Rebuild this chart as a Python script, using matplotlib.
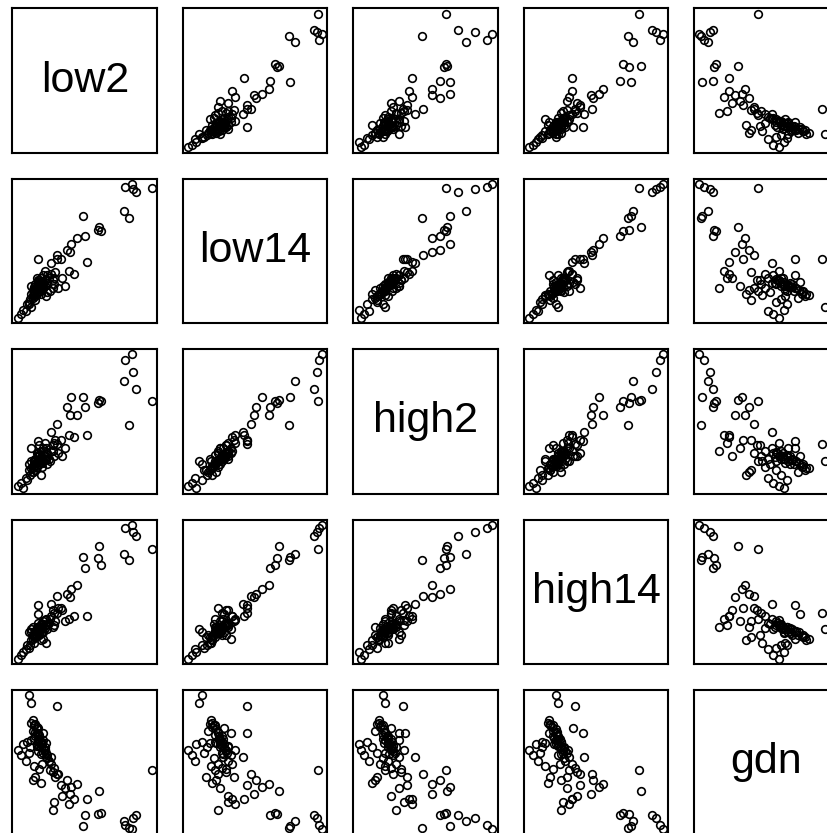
"""Scatterplot matrix (R pairs style) of low2, low14, high2, high14, gdn."""
import matplotlib
matplotlib.use("Agg")
import matplotlib.pyplot as plt

# values (units as in the original, scaled 0..1 here)
low2 = [0.00, 0.02, 0.04, 0.06, 0.07,
        0.10, 0.12, 0.11, 0.14, 0.13, 0.16, 0.15, 0.18, 0.17, 0.20,
        0.19, 0.22, 0.21, 0.23, 0.18, 0.12, 0.09, 0.08, 0.16, 0.25,
        0.27, 0.24, 0.20, 0.14, 0.10, 0.22, 0.26, 0.13, 0.11, 0.17,
        0.28, 0.30, 0.19, 0.15, 0.21,
        0.12, 0.14, 0.16, 0.18, 0.13, 0.15, 0.17, 0.19, 0.21, 0.11,
        0.14, 0.16, 0.20, 0.12, 0.18, 0.15, 0.17, 0.13, 0.19, 0.16,
        0.15, 0.29, 0.25, 0.32, 0.29, 0.10, 0.08, 0.38, 0.27, 0.26,
        0.33, 0.42, 0.35, 0.52,
        0.85, 0.80, 0.86, 0.88, 1.00, 0.79, 0.83,
        0.61, 0.60, 0.62, 0.49, 0.50, 0.44, 0.40, 0.37, 0.39]
low14 = [0.00, 0.03, 0.06, 0.05, 0.10,
         0.18, 0.20, 0.15, 0.22, 0.25, 0.24, 0.20, 0.27, 0.30, 0.28,
         0.25, 0.32, 0.26, 0.30, 0.22, 0.17, 0.14, 0.12, 0.28, 0.33,
         0.25, 0.20, 0.35, 0.30, 0.24, 0.19, 0.28, 0.13, 0.21, 0.18,
         0.34, 0.22, 0.32, 0.27, 0.16,
         0.19, 0.21, 0.23, 0.25, 0.22, 0.26, 0.24, 0.27, 0.29, 0.17,
         0.18, 0.20, 0.24, 0.23, 0.21, 0.28, 0.26, 0.16, 0.23, 0.25,
         0.44, 0.47, 0.41, 0.44, 0.44, 0.08, 0.10, 0.35, 0.30, 0.22,
         0.30, 0.33, 0.24, 0.42,
         1.00, 0.98, 0.96, 0.94, 0.97, 0.80, 0.75,
         0.68, 0.66, 0.65, 0.76, 0.61, 0.60, 0.55, 0.51, 0.49]
high2 = [0.02, 0.04, 0.00, 0.08, 0.06,
         0.15, 0.18, 0.12, 0.20, 0.22, 0.18, 0.25, 0.22, 0.28, 0.24,
         0.20, 0.26, 0.30, 0.22, 0.16, 0.20, 0.10, 0.14, 0.32, 0.28,
         0.24, 0.20, 0.34, 0.26, 0.30, 0.18, 0.32, 0.14, 0.12, 0.10,
         0.36, 0.26, 0.30, 0.24, 0.22,
         0.17, 0.19, 0.21, 0.23, 0.20, 0.24, 0.22, 0.25, 0.27, 0.15,
         0.16, 0.18, 0.22, 0.21, 0.19, 0.26, 0.23, 0.14, 0.20, 0.24,
         0.35, 0.48, 0.42, 0.36, 0.33, 0.20, 0.18, 0.40, 0.34, 0.28,
         0.24, 0.38, 0.30, 0.40,
         1.00, 0.96, 0.87, 0.74, 0.65, 0.80, 0.47,
         0.66, 0.64, 0.65, 0.68, 0.61, 0.55, 0.68, 0.61, 0.55]
high14 = [0.00, 0.03, 0.05, 0.07, 0.10,
          0.14, 0.16, 0.18, 0.20, 0.18, 0.22, 0.24, 0.20, 0.26, 0.25,
          0.28, 0.22, 0.30, 0.27, 0.23, 0.12, 0.10, 0.08, 0.18, 0.32,
          0.34, 0.30, 0.29, 0.24, 0.20, 0.26, 0.36, 0.16, 0.24, 0.14,
          0.28, 0.38, 0.15, 0.33, 0.12,
          0.18, 0.20, 0.22, 0.24, 0.21, 0.23, 0.19, 0.26, 0.25, 0.15,
          0.17, 0.21, 0.23, 0.19, 0.22, 0.27, 0.24, 0.16, 0.20, 0.22,
          0.40, 0.47, 0.41, 0.38, 0.34, 0.22, 0.20, 0.30, 0.25, 0.24,
          0.36, 0.32, 0.28, 0.32,
          1.00, 0.98, 0.95, 0.92, 0.82, 0.78, 0.74,
          0.84, 0.75, 0.70, 0.76, 0.68, 0.55, 0.52, 0.48, 0.46]
gdn = [0.60, 0.56, 0.64, 0.52, 0.66,
       0.80, 0.78, 0.74, 0.72, 0.70, 0.68, 0.66, 0.64, 0.62, 0.60,
       0.58, 0.56, 0.55, 0.52, 0.50, 0.48, 0.62, 0.58, 0.46, 0.50,
       0.47, 0.45, 0.60, 0.63, 0.67, 0.54, 0.44, 0.40, 0.38, 0.36,
       0.40, 0.42, 0.72, 0.76, 0.65,
       0.78, 0.75, 0.70, 0.66, 0.73, 0.68, 0.64, 0.61, 0.58, 0.82,
       0.77, 0.71, 0.62, 0.69, 0.65, 0.59, 0.57, 0.79, 0.67, 0.63,
       0.72, 0.42, 0.55, 0.34, 0.92, 0.94, 1.00, 0.20, 0.22, 0.16,
       0.26, 0.24, 0.32, 0.24,
       0.02, 0.05, 0.10, 0.12, 0.45, 0.08, 0.03,
       0.30, 0.13, 0.14, 0.04, 0.12, 0.35, 0.33, 0.38, 0.28]

names = ["low2", "low14", "high2", "high14", "gdn"]
cols = [low2, low14, high2, high14, gdn]

W, H = 828, 833
fig = plt.figure(figsize=(W / 100, H / 100), dpi=100)

x0, y0 = 12.5, 8.3      # top-left of first panel, px
pitch, size = 170.4, 144.5

for i in range(5):
    for j in range(5):
        left = (x0 + j * pitch) / W
        bottom = 1 - (y0 + i * pitch + size) / H
        ax = fig.add_axes([left, bottom, size / W, size / H])
        ax.set_xticks([])
        ax.set_yticks([])
        for s in ax.spines.values():
            s.set_linewidth(1.5)
            s.set_color("black")
        if i == j:
            ax.set_xlim(0, 1)
            ax.set_ylim(0, 1)
            ax.text(0.5, 0.5, names[i], ha="center", va="center",
                    fontsize=31, family=["Liberation Sans", "DejaVu Sans"])
        else:
            ax.plot(cols[j], cols[i], linestyle="none", marker="o",
                    markersize=5.5, markerfacecolor="none",
                    markeredgecolor="black", markeredgewidth=1.2)
            ax.margins(0.04)

fig.savefig("out.png", dpi=100)
